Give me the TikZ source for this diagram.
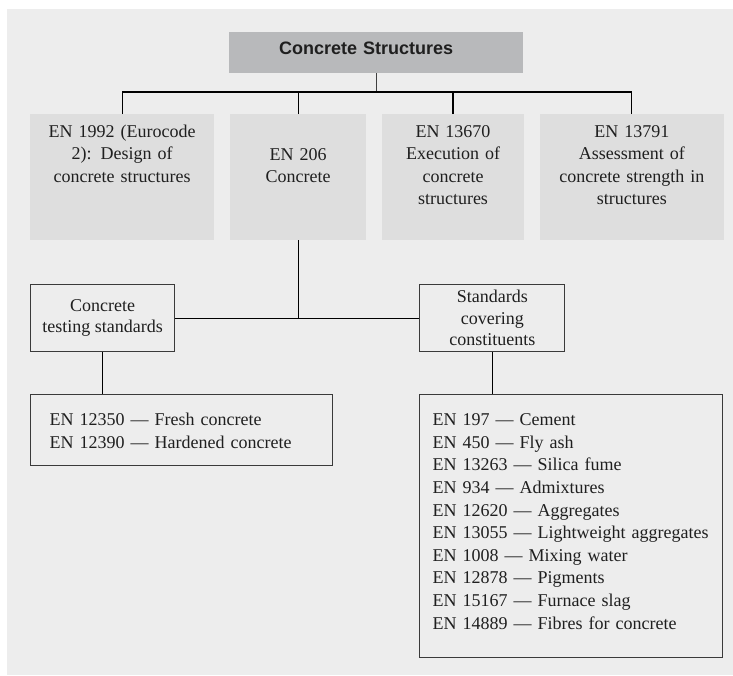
\documentclass[tikz,border=0pt]{standalone}
\usepackage{fontspec}
\setmainfont{Liberation Serif}
\setsansfont{Liberation Sans}
\usetikzlibrary{positioning}

\definecolor{panelgrey}{HTML}{EDEDED}
\definecolor{boxgrey}{HTML}{DEDEDE}
\definecolor{headgrey}{HTML}{B8B9BB}
\definecolor{edgegrey}{HTML}{3A3A3A}

\begin{document}
\begin{tikzpicture}[x=1pt,y=1pt,
    every node/.style={font=\fontsize{18}{22.4}\selectfont,text=black!88},
    headbox/.style={fill=headgrey,inner sep=0,text width=294pt,align=center,
      text height=22pt,text depth=19pt,font=\sffamily\bfseries\fontsize{18}{22}\selectfont},
    partbox/.style={fill=boxgrey,inner sep=0,align=center,text height=23pt,text depth=103pt},
    groupbox/.style={draw=edgegrey,line width=1.2pt,fill=panelgrey,minimum height=67pt,
      inner sep=0,align=center,font=\fontsize{18}{21.5}\selectfont},
    listbox/.style={draw=edgegrey,line width=1.2pt,fill=panelgrey,inner ysep=0,align=left,
      text height=31pt,font=\fontsize{18}{22.6}\selectfont},
    link/.style={line width=1.1pt}]
  \useasboundingbox (0,0) rectangle (733,-675);
  \fill[panelgrey] (7,-9) rectangle (733,-675);

  % top level and the four standards under it
  \node[headbox,anchor=north west] (cs) at (229,-32) {\hspace*{-20pt}Concrete Structures};
  \node[partbox,text width=184pt,anchor=north west] (ec2) at (30,-114)
    {EN 1992 (Eurocode\\2): Design of\\concrete structures};
  \node[partbox,text width=136pt,text height=46pt,text depth=80pt] (en206) [right=15.5pt of ec2]
    {EN 206\\Concrete};
  \node[partbox,text width=142pt] (en13670) [right=15.5pt of en206]
    {EN 13670\\Execution of\\concrete\\structures};
  \node[partbox,text width=184pt] (en13791) [right=15.5pt of en13670]
    {EN 13791\\Assessment of\\concrete strength in\\structures};

  % groups hanging off EN 206
  \node[groupbox,minimum width=144pt,anchor=north west] (testing) at (30,-284)
    {Concrete\\testing standards};
  \node[groupbox,minimum width=145pt] (constit) [right=244pt of testing]
    {Standards\\covering\\constituents};

  \node[listbox,inner xsep=19pt,text width=264pt,text depth=40pt,anchor=north west] (testlist) at (30,-394)
    {EN 12350 — Fresh concrete\\EN 12390 — Hardened concrete};
  \node[listbox,inner xsep=13pt,text width=277pt,text depth=232pt,anchor=north west] (constlist) at (419,-394)
    {EN 197 — Cement\\
     EN 450 — Fly ash\\
     EN 13263 — Silica fume\\
     EN 934 — Admixtures\\
     EN 12620 — Aggregates\\
     EN 13055 — Lightweight aggregates\\
     EN 1008 — Mixing water\\
     EN 12878 — Pigments\\
     EN 15167 — Furnace slag\\
     EN 14889 — Fibres for concrete};

  % connectors
  \coordinate (bar) at (0,-92);
  \draw[link,draw=black!75,line width=0.8pt] (cs.south) -- (cs.south |- bar);
  \draw[link] (ec2.north |- bar) -- (en13791.north |- bar);
  \foreach \n in {ec2,en206,en13670,en13791}
    \draw[link] (\n.north) -- (\n.north |- bar);
  \draw[link] (en206.south) -- (en206.south |- testing.east);
  \draw[link] (testing.east) -- (constit.west);
  \draw[link] (testing.south) -- (testing.south |- testlist.north);
  \draw[link] (constit.south) -- (constit.south |- constlist.north);
\end{tikzpicture}
\end{document}
